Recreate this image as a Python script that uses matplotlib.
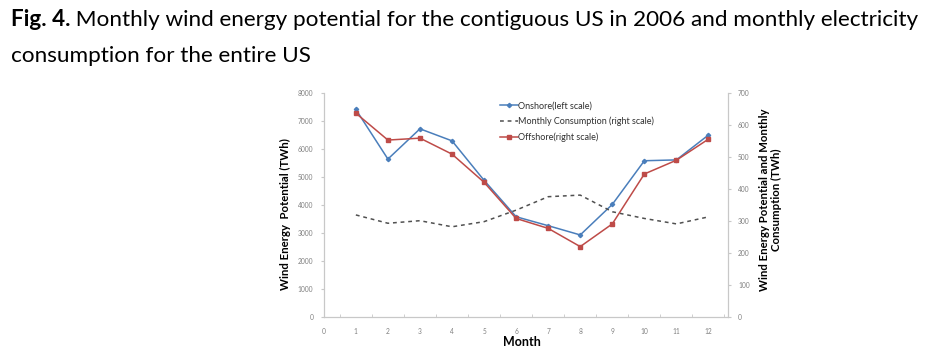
import matplotlib
matplotlib.use("Agg")
import matplotlib.pyplot as plt
from matplotlib.ticker import MultipleLocator, FixedLocator

months = [1, 2, 3, 4, 5, 6, 7, 8, 9, 10, 11, 12]
onshore = [7400, 5630, 6710, 6280, 4870, 3570, 3250, 2920, 4010, 5570, 5600, 6490]
consumption = [318, 292, 300, 281, 297, 333, 375, 380, 328, 307, 290, 312]
offshore = [636, 552, 558, 508, 420, 307, 276, 219, 290, 446, 489, 555]

title_bold = "Fig. 4."
title_rest = " Monthly wind energy potential for the contiguous US in 2006 and monthly electricity"
title_line2 = "consumption for the entire US"

FONT = "Lato"
plt.rcParams['font.family'] = [FONT, 'DejaVu Sans']

fig = plt.figure(figsize=(9.29, 3.57), dpi=100)
ax = fig.add_axes([323.8 / 929, 1 - 316.7 / 357, (727.7 - 323.8) / 929, (316.7 - 92.7) / 357])
ax2 = ax.twinx()

blue = "#4a7ebb"
red = "#be4b48"
gray = "#505050"

l1, = ax.plot(months, onshore, color=blue, lw=1.1, marker='D', ms=2.2, label="Onshore(left scale)")
l2, = ax2.plot(months, consumption, color=gray, lw=1.1, ls=(0, (2.5, 2.5)), label="Monthly Consumption (right scale)")
l3, = ax2.plot(months, offshore, color=red, lw=1.1, marker='s', ms=3, label="Offshore(right scale)")

ax.set_xlim(0, 12.6)
ax.set_ylim(0, 8000)
ax2.set_ylim(0, 700)

ax.xaxis.set_major_locator(FixedLocator(list(range(0, 13))))
ax.xaxis.set_minor_locator(FixedLocator([k + 0.5 for k in range(0, 13)]))
ax.yaxis.set_major_locator(MultipleLocator(1000))
ax2.yaxis.set_major_locator(MultipleLocator(100))

spine_c = "#c8c8c8"
tick_c = "#808080"
for a in (ax, ax2):
    for s in a.spines.values():
        s.set_color(spine_c)
        s.set_linewidth(0.9)
    a.spines['top'].set_visible(False)
ax.spines['right'].set_visible(False)
ax2.spines['left'].set_visible(False)
ax2.spines['bottom'].set_visible(False)

ax.tick_params(axis='x', which='major', length=0, labelsize=4.8, labelcolor=tick_c, pad=8)
ax.tick_params(axis='x', which='minor', length=2.5, color=spine_c, direction='in')
ax.tick_params(axis='y', length=2.5, color=spine_c, labelsize=4.8, labelcolor=tick_c, pad=5)
ax2.tick_params(axis='y', length=2.5, color=spine_c, labelsize=4.8, labelcolor=tick_c, pad=5)

ax.set_xlabel("Month", fontsize=9, fontweight='bold')
ax.xaxis.set_label_coords((522 - 323.8) / 403.9, -0.085)
ax.set_ylabel("Wind Energy  Potential (TWh)", fontsize=8.2, fontweight='bold',
              va='center', ha='center')
ax.yaxis.set_label_coords((285 - 323.8) / 403.9, 0.46)
ax2.set_ylabel("Wind Energy Potential and Monthly\nConsumption (TWh)", fontsize=8.2,
               fontweight='bold', rotation=90, va='center', ha='center', linespacing=1.05)
ax2.yaxis.set_label_coords((770.5 - 323.8) / 403.9, 0.52)

leg = ax.legend(handles=[l1, l2, l3], loc='upper left', bbox_to_anchor=(0.42, 0.99),
                frameon=False, fontsize=6.5, handlelength=2.0, handletextpad=0.0,
                labelspacing=0.7, borderaxespad=0.3)
for t in leg.get_texts():
    t.set_color("#303030")

# title (two lines, first word bold)
TS = 16.2
t1 = fig.text(11 / 929, 1 - 26 / 357, title_bold, fontsize=TS, fontweight='bold', va='baseline', ha='left')
fig.canvas.draw()
bb = t1.get_window_extent()
fig.text(bb.x1 / 929, 1 - 26 / 357, title_rest, fontsize=TS, va='baseline', ha='left')
fig.text(11 / 929, 1 - 62 / 357, title_line2, fontsize=TS, va='baseline', ha='left')

fig.savefig("out.png", dpi=100)
